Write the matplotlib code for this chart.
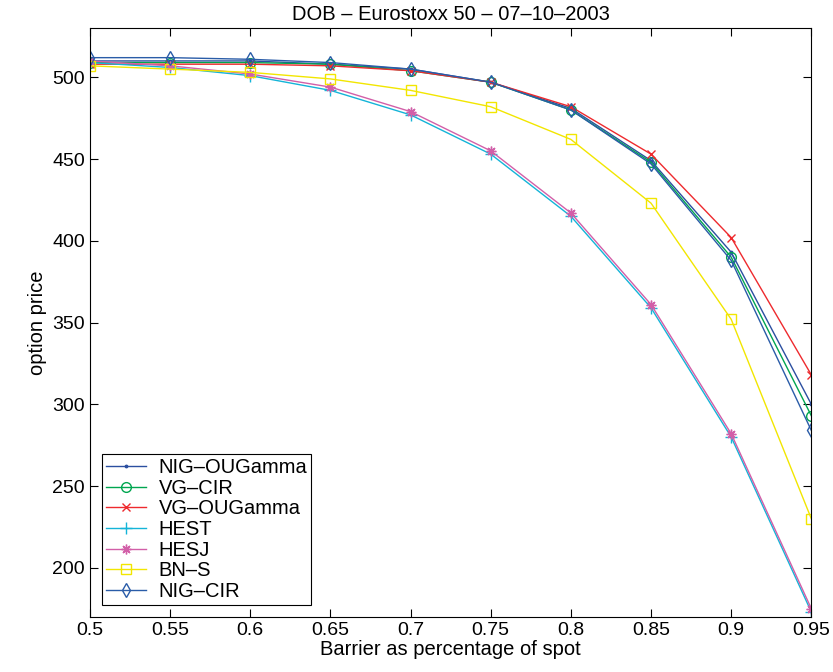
import numpy as np
import matplotlib.pyplot as plt

plt.rcParams['font.family'] = ['Liberation Sans', 'DejaVu Sans']

# barrier levels (fraction of spot)
barrier = [0.5, 0.55, 0.6, 0.65, 0.7, 0.75, 0.8, 0.85, 0.9, 0.95]

# option prices
nig_ougamma = [510, 510, 510, 508, 505, 497, 481, 449, 393, 300]
vg_cir = [509, 509, 509, 508, 504, 497, 480, 448, 390, 293]
vg_ougamma = [508, 508, 508, 507, 504, 497, 482, 453, 402, 318]
hest = [509, 506, 501, 492, 477, 453, 415, 359, 280, 173]
hesj = [510, 507, 502, 494, 479, 455, 417, 361, 282, 175]
bns = [507, 505, 503, 499, 492, 482, 462, 423, 352, 230]
nig_cir = [512, 512, 511, 509, 505, 497, 480, 447, 388, 284]

xticks = [0.5, 0.55, 0.6, 0.65, 0.7, 0.75, 0.8, 0.85, 0.9, 0.95]
yticks = [200, 250, 300, 350, 400, 450, 500]

fs = 14.5

fig = plt.figure(figsize=(8.33, 6.72), dpi=100)
ax = fig.add_axes([0.108, 0.082, 0.866, 0.876])

ax.plot(barrier, nig_ougamma, color='#2b4fa0', marker='.', ms=3.5, lw=1, label='NIG\u2013OUGamma')
ax.plot(barrier, vg_cir, color='#00a650', marker='o', ms=7, mfc='none', lw=1, label='VG\u2013CIR')
ax.plot(barrier, vg_ougamma, color='#ee2a2e', marker='x', ms=6, lw=1, label='VG\u2013OUGamma')
ax.plot(barrier, hest, color='#14b4d8', marker='+', ms=8, lw=1, label='HEST')
ax.plot(barrier, hesj, color='#d25fa8', marker=(8, 2, 0), ms=7, lw=1, label='HESJ')
ax.plot(barrier, bns, color='#f2e600', marker='s', ms=6.5, mfc='none', lw=1, label='BN\u2013S')
ax.plot(barrier, nig_cir, color='#2a5ca8', marker='d', ms=7.5, mfc='none', lw=1, label='NIG\u2013CIR')

ax.set_xlim(0.5, 0.95)
ax.set_ylim(170, 530)
ax.set_xticks(xticks)
ax.set_xticklabels([str(v) for v in xticks])
ax.set_yticks(yticks)
ax.tick_params(direction='in', top=True, right=True, labelsize=14, length=6)

ax.set_title('DOB \u2013 Eurostoxx 50 \u2013 07\u201310\u20132003', fontsize=fs, pad=6)
ax.set_xlabel('Barrier as percentage of spot', fontsize=fs, labelpad=1)
ax.set_ylabel('option price', fontsize=fs, labelpad=4)

leg = ax.legend(loc='lower left', fontsize=fs, fancybox=False, framealpha=1,
                edgecolor='black', borderaxespad=0.6, handlelength=2.0,
                labelspacing=0.08, borderpad=0.2, handletextpad=0.6)
leg.get_frame().set_linewidth(0.8)

fig.savefig('out.png', dpi=100)
